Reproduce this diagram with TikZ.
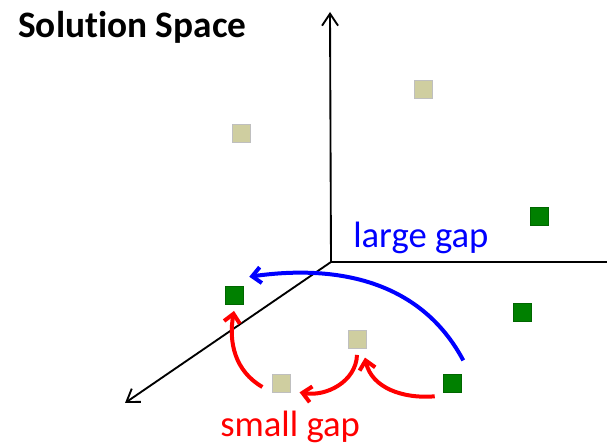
\documentclass[tikz,border=0pt]{standalone}
\usepackage{fontspec}
\setmainfont{Carlito}[Ligatures=NoCommon]
\usetikzlibrary{arrows.meta}
\definecolor{khaki}{RGB}{207,206,160}
\definecolor{leaf}{RGB}{0,128,0}

\begin{document}
\begin{tikzpicture}[x=0.75pt, y=0.75pt,
    tansq/.style={draw=black!25, line width=0.4pt, fill=khaki, minimum size=13.5pt, inner sep=0pt},
    greensq/.style={draw=leaf!80!black, line width=0.4pt, fill=leaf, minimum size=13.5pt, inner sep=0pt},
    axis/.style={line width=1.4pt, -{Straight Barb[length=9pt, width=12pt]}},
    gaparrow/.style={line width=3pt, -{Straight Barb[length=6.5pt, width=12pt]}}]
        \useasboundingbox (0,0) rectangle (607,445);

        % axes
        \coordinate (origin) at (331,183);
        \coordinate (up) at (330,433);
        \coordinate (right) at (607,183);
        \coordinate (front) at (125,42);
        \draw[axis] (origin) -- (up);
        \draw[line width=1.4pt] (origin) -- (right);
        \draw[axis] (origin) -- (front);

        % solutions
        \node[tansq] (t1) at (423,356) {};
        \node[tansq] (t2) at (241,312) {};
        \node[greensq] (g1) at (539,229) {};
        \node[greensq] (g2) at (234,150) {};
        \node[greensq] (g3) at (522,133) {};
        \node[tansq] (t3) at (357,106) {};
        \node[tansq] (t4) at (281,62) {};
        \node[greensq] (g4) at (452,62) {};

        % labels
        \node[anchor=base west, inner sep=0pt, font=\fontsize{28}{32}\selectfont\bfseries] (title) at (18,407) {Solution Space};
        \node[anchor=base west, inner sep=0pt, text=blue, font=\fontsize{27.5}{30}\selectfont] (large) at (353,197) {large gap};
        \node[anchor=base west, inner sep=0pt, text=red, font=\fontsize{27.5}{30}\selectfont] (small) at (220,8) {small gap};

        % gaps
        \draw[gaparrow, blue] ([xshift=1.5pt, yshift=10pt]g4.north east) to[out=118, in=8] ([xshift=4.5pt, yshift=6.75pt]g2.north east);
        \draw[gaparrow, red] ([xshift=-7pt, yshift=-3pt]t4.west) to[out=150, in=-100] ([yshift=-5pt]g2.south);
        \draw[gaparrow, red] ([yshift=-5pt]t3.south) to[out=-92, in=-10] ([xshift=7pt, yshift=-7pt]t4.east);
        \draw[gaparrow, red] ([xshift=-6pt, yshift=-10pt]g4.west) to[out=185, in=-78] ([xshift=6pt, yshift=-7pt]t3.south);
    \end{tikzpicture}
\end{document}
